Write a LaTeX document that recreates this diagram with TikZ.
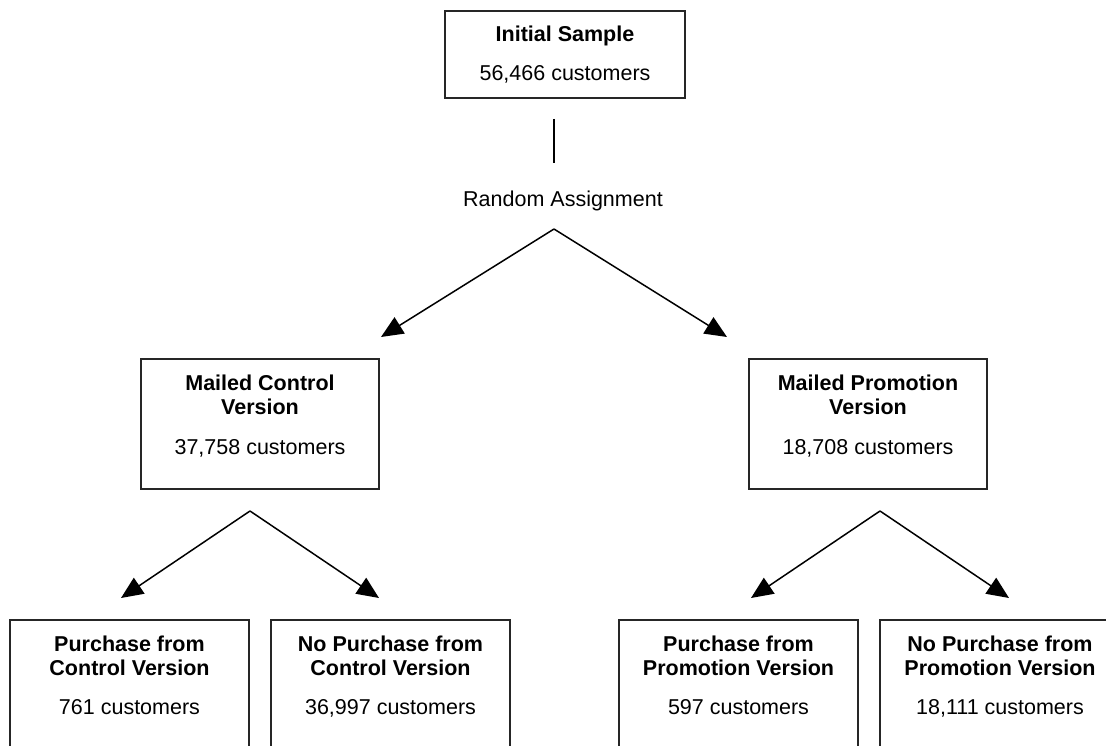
\documentclass[tikz,border=0pt]{standalone}
\usepackage{fontspec}
\setmainfont{Liberation Sans}
\usetikzlibrary{arrows.meta}
\begin{document}
\begin{tikzpicture}[x=1pt,y=-1pt,
  boxline/.style={draw=black!85, line width=2pt},
  conn/.style={draw=black, line width=1.5pt},
  arr/.style={conn, -{Triangle[length=22pt,width=19pt]}},
  hd/.style={anchor=base, inner sep=0pt, font=\fontsize{21.5}{24}\selectfont\bfseries},
  tx/.style={anchor=base, inner sep=0pt, font=\fontsize{21.5}{24}\selectfont}]
\clip (0,0) rectangle (1106,746);
\fill[white] (0,0) rectangle (1106,746);
% boxes
\node[boxline, minimum width=240pt, minimum height=87pt, inner sep=0pt] (init) at (565,54.5) {};
\node[boxline, minimum width=238pt, minimum height=130pt, inner sep=0pt] (ctrl) at (260,424) {};
\node[boxline, minimum width=238pt, minimum height=130pt, inner sep=0pt] (promo) at (868,424) {};
\node[boxline, minimum width=239pt, minimum height=160pt, inner sep=0pt] (b1) at (129.5,700) {};
\node[boxline, minimum width=239pt, minimum height=160pt, inner sep=0pt] (b2) at (390.5,700) {};
\node[boxline, minimum width=239pt, minimum height=160pt, inner sep=0pt] (b3) at (738.5,700) {};
\node[boxline, minimum width=240pt, minimum height=160pt, inner sep=0pt] (b4) at (1000,700) {};
% texts
\node[hd] (t1) at (565,42) {Initial Sample};
\node[tx] (t2) at (565,81) {56,466 customers};
\node[tx] (ra) at (563,207) {Random Assignment};
\node[hd] (c1) at (260,390) {Mailed Control};
\node[hd] (c2) at (260,414) {Version};
\node[tx] (c3) at (260,454) {37,758 customers};
\node[hd] (p1) at (868,390) {Mailed Promotion};
\node[hd] (p2) at (868,414) {Version};
\node[tx] (p3) at (868,454) {18,708 customers};
\node[hd] (b1a) at (129.5,651) {Purchase from};
\node[hd] (b1b) at (129.5,675) {Control Version};
\node[tx] (b1c) at (129.5,714) {761 customers};
\node[hd] (b2a) at (390.5,651) {No Purchase from};
\node[hd] (b2b) at (390.5,675) {Control Version};
\node[tx] (b2c) at (390.5,714) {36,997 customers};
\node[hd] (b3a) at (738.5,651) {Purchase from};
\node[hd] (b3b) at (738.5,675) {Promotion Version};
\node[tx] (b3c) at (738.5,714) {597 customers};
\node[hd] (b4a) at (1000,651) {No Purchase from};
\node[hd] (b4b) at (1000,675) {Promotion Version};
\node[tx] (b4c) at (1000,714) {18,111 customers};
% connector coordinates
\coordinate (vt) at (554,119);
\coordinate (vb) at (554,163);
\coordinate (apA) at (554,229);
\coordinate (tA1) at (381,337);
\coordinate (tA2) at (727,337);
\coordinate (apB) at (250,511);
\coordinate (tB1) at (121,598);
\coordinate (tB2) at (379,598);
\coordinate (apC) at (880,511);
\coordinate (tC1) at (751,598);
\coordinate (tC2) at (1009,598);
% connectors
\draw[conn] (vt) -- (vb);
\draw[arr] (apA) -- (tA1);
\draw[arr] (apA) -- (tA2);
\draw[arr] (apB) -- (tB1);
\draw[arr] (apB) -- (tB2);
\draw[arr] (apC) -- (tC1);
\draw[arr] (apC) -- (tC2);
\end{tikzpicture}
\end{document}
